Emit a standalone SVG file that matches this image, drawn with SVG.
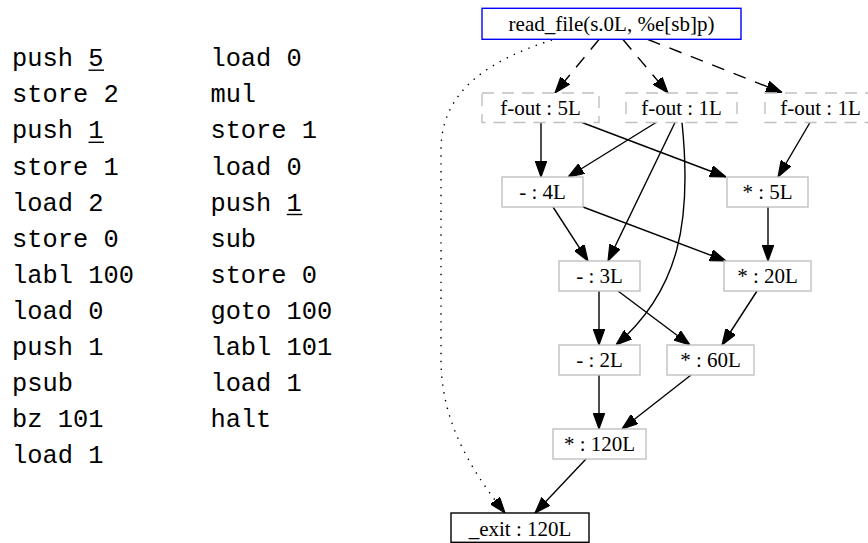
<svg xmlns="http://www.w3.org/2000/svg" width="868" height="543" viewBox="0 0 868 543">
  <style>
    .code { font-family: "Liberation Mono", "DejaVu Sans Mono", monospace; font-size: 25.4px; fill: #000; }
    .ul { stroke: #000; stroke-width: 1.4; }
    .box { fill: #fff; stroke: #c0c0c0; stroke-width: 1.4; }
    .dbox { fill: #fff; stroke: #c0c0c0; stroke-width: 1.4; stroke-dasharray: 12 8; }
    .src { fill: #fff; stroke: #0000ff; stroke-width: 1.4; }
    .sink { fill: #fff; stroke: #000; stroke-width: 1.4; }
    .lbl { font-family: "Liberation Serif", "Times New Roman", serif; font-size: 21px; fill: #000; text-anchor: middle; }
    .e { fill: none; stroke: #000; stroke-width: 1.4; }
    .dash { stroke-dasharray: 13 10; }
    .dot { stroke-dasharray: 1.4 6.5; }
  </style>
  <defs>
    <marker id="ah" markerUnits="userSpaceOnUse" markerWidth="16" markerHeight="12" viewBox="0 0 14 10" refX="14" refY="5" orient="auto">
      <polygon points="0,0 14,5 0,10" fill="#000" stroke="#000" stroke-width="1" stroke-dasharray="none"/>
    </marker>
  </defs>
  <rect width="868" height="543" fill="#fff"/>

  <!-- stack-machine listing, two columns -->
  <g id="listing">
    <text class="code" x="12" y="66.3">push 5</text>
    <text class="code" x="12" y="102.4">store 2</text>
    <text class="code" x="12" y="138.4">push 1</text>
    <text class="code" x="12" y="174.5">store 1</text>
    <text class="code" x="12" y="210.6">load 2</text>
    <text class="code" x="12" y="246.7">store 0</text>
    <text class="code" x="12" y="282.7">labl 100</text>
    <text class="code" x="12" y="318.8">load 0</text>
    <text class="code" x="12" y="354.9">push 1</text>
    <text class="code" x="12" y="390.9">psub</text>
    <text class="code" x="12" y="427.0">bz 101</text>
    <text class="code" x="12" y="463.1">load 1</text>

    <text class="code" x="210.4" y="66.3">load 0</text>
    <text class="code" x="210.4" y="102.4">mul</text>
    <text class="code" x="210.4" y="138.4">store 1</text>
    <text class="code" x="210.4" y="174.5">load 0</text>
    <text class="code" x="210.4" y="210.6">push 1</text>
    <text class="code" x="210.4" y="246.7">sub</text>
    <text class="code" x="210.4" y="282.7">store 0</text>
    <text class="code" x="210.4" y="318.8">goto 100</text>
    <text class="code" x="210.4" y="354.9">labl 101</text>
    <text class="code" x="210.4" y="390.9">load 1</text>
    <text class="code" x="210.4" y="427.0">halt</text>

    <!-- underlined constants -->
    <line class="ul" x1="88.5" y1="70.2" x2="104" y2="70.2"/>
    <line class="ul" x1="88.5" y1="142.3" x2="104" y2="142.3"/>
    <line class="ul" x1="286.8" y1="214.5" x2="302.3" y2="214.5"/>
  </g>

  <!-- connectors -->
  <g id="edges">
    <path class="e dash" d="M599,39.5 L555,93" marker-end="url(#ah)"/>
    <path class="e dash" d="M623,39.5 L668,93" marker-end="url(#ah)"/>
    <path class="e dash" d="M648,39.5 L782,92.5" marker-end="url(#ah)"/>
    <path class="e dot" d="M552,40 C490,60 441,90 441,150 L441,360 C441,425 475,475 505,513" marker-end="url(#ah)"/>

    <path class="e" d="M541,122.5 L541,177" marker-end="url(#ah)"/>
    <path class="e" d="M582,122.5 L726,177" marker-end="url(#ah)"/>
    <path class="e" d="M656,122.5 L568,177" marker-end="url(#ah)"/>
    <path class="e" d="M675,122.5 L608,261" marker-end="url(#ah)"/>
    <path class="e" d="M682,122.5 C692,220 680,290 616,345" marker-end="url(#ah)"/>
    <path class="e" d="M810,122.5 L778,177" marker-end="url(#ah)"/>

    <path class="e" d="M553,207 L588,261" marker-end="url(#ah)"/>
    <path class="e" d="M583,207 L726,261" marker-end="url(#ah)"/>
    <path class="e" d="M768,207 L768,261" marker-end="url(#ah)"/>

    <path class="e" d="M599,291 L599,345" marker-end="url(#ah)"/>
    <path class="e" d="M618,291 L690,345" marker-end="url(#ah)"/>
    <path class="e" d="M757,291 L722,345" marker-end="url(#ah)"/>

    <path class="e" d="M599,375 L599,429" marker-end="url(#ah)"/>
    <path class="e" d="M691,375 L622,429" marker-end="url(#ah)"/>

    <path class="e" d="M586,459 L535,513" marker-end="url(#ah)"/>
  </g>

  <!-- nodes -->
  <g id="read_file">
    <rect class="src" x="482" y="8.3" width="259" height="31"/>
    <text class="lbl" x="611.5" y="31">read_file(s.0L, %e[sb]p)</text>
  </g>
  <g id="fout_5">
    <rect class="dbox" x="482" y="93" width="117" height="29.5"/>
    <text class="lbl" x="540.5" y="115">f-out : 5L</text>
  </g>
  <g id="fout_1a">
    <rect class="dbox" x="626" y="93" width="111" height="29.5"/>
    <text class="lbl" x="681.5" y="115">f-out : 1L</text>
  </g>
  <g id="fout_1b">
    <rect class="dbox" x="765" y="93" width="111" height="29.5"/>
    <text class="lbl" x="820.5" y="115">f-out : 1L</text>
  </g>
  <g id="sub_4">
    <rect class="box" x="502" y="177" width="81" height="30"/>
    <text class="lbl" x="542.5" y="199.3">- : 4L</text>
  </g>
  <g id="mul_5">
    <rect class="box" x="727" y="177" width="81" height="30"/>
    <text class="lbl" x="767.5" y="199.3">* : 5L</text>
  </g>
  <g id="sub_3">
    <rect class="box" x="559" y="261" width="81" height="30"/>
    <text class="lbl" x="599.5" y="283.3">- : 3L</text>
  </g>
  <g id="mul_20">
    <rect class="box" x="724" y="261" width="87" height="30"/>
    <text class="lbl" x="767.5" y="283.3">* : 20L</text>
  </g>
  <g id="sub_2">
    <rect class="box" x="559" y="345" width="81" height="30"/>
    <text class="lbl" x="599.5" y="367.3">- : 2L</text>
  </g>
  <g id="mul_60">
    <rect class="box" x="667" y="345" width="87" height="30"/>
    <text class="lbl" x="710.5" y="367.3">* : 60L</text>
  </g>
  <g id="mul_120">
    <rect class="box" x="553" y="429" width="93" height="30"/>
    <text class="lbl" x="599.5" y="451.3">* : 120L</text>
  </g>
  <g id="exit">
    <rect class="sink" x="451" y="513" width="138" height="29.3"/>
    <text class="lbl" x="520" y="535.5">_exit : 120L</text>
  </g>
</svg>
